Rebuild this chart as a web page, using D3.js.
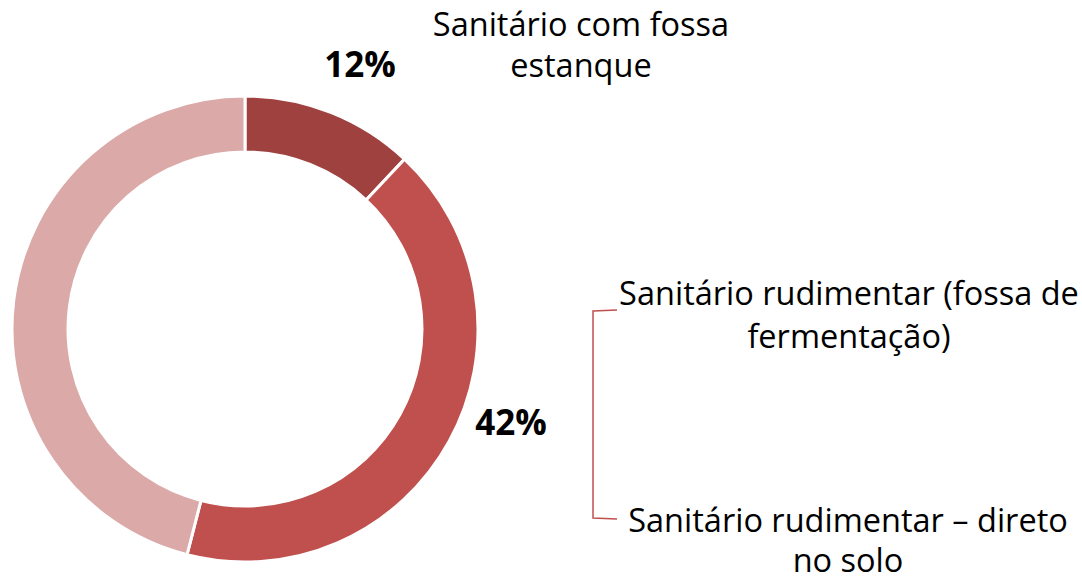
<!DOCTYPE html>
<html><head><meta charset="utf-8">
<script src="https://cdn.jsdelivr.net/npm/d3@7"></script>
<style>body{margin:0;background:#fff}svg{display:block}</style>
</head><body>
<svg id="c" width="1082" height="579"></svg>
<script>
const categories = ["Sanitário com fossa estanque", "Sanitário rudimentar (fossa de fermentação)", "Sanitário rudimentar – direto no solo"];
const categoryLines = [["Sanitário com fossa", "estanque"], ["Sanitário rudimentar (fossa de", "fermentação)"], ["Sanitário rudimentar – direto", "no solo"]];
const values = [12, 42, 46];
const valueLabels = ["12%", "42%", null];
const colors = ["#9E413F", "#C0504D", "#DAA9A8"];

const svg = d3.select("#c");
const cx = 245, cy = 329, R = 233, r = 177;
const g = svg.append("g").attr("transform", `translate(${cx},${cy})`);
const pie = d3.pie().sort(null).value(d => d)(values);
const arc = d3.arc().innerRadius(r).outerRadius(R);
g.selectAll("path").data(pie).join("path")
  .attr("d", arc)
  .attr("fill", (d, i) => colors[i])
  .attr("stroke", "#fff").attr("stroke-width", 3);

const font = "'Open Sans', sans-serif";
// value labels
const valuePos = [[360, 77], [511, 435]];
valueLabels.forEach((s, i) => {
  if (!s) return;
  svg.append("text").attr("x", valuePos[i][0]).attr("y", valuePos[i][1])
    .attr("text-anchor", "middle").attr("font-family", font)
    .attr("font-size", 35).attr("font-weight", 700).attr("fill", "#000").text(s);
});
// category labels (two lines each)
const catPos = [[581, 36], [849, 305], [848, 532]];
const lineGap = [41, 43, 40];
categoryLines.forEach((lines, i) => {
  const t = svg.append("text").attr("text-anchor", "middle").attr("font-family", font)
    .attr("font-size", 32.5).attr("fill", "#000");
  lines.forEach((l, j) => {
    t.append("tspan").attr("x", catPos[i][0]).attr("y", catPos[i][1] + j * lineGap[i]).text(l);
  });
});

// bracket
svg.append("path")
  .attr("d", "M617,310 L593,311 L593,518 L617,519")
  .attr("fill", "none").attr("stroke", "#C0504D").attr("stroke-width", 1.5);
</script>
</body></html>
